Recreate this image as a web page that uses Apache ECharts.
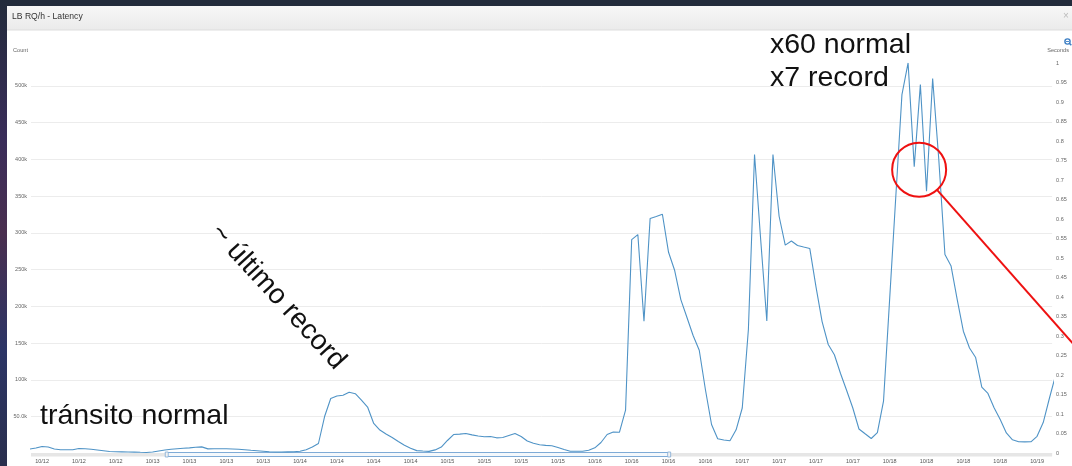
<!DOCTYPE html>
<html>
<head>
<meta charset="utf-8">
<script src="https://cdn.jsdelivr.net/npm/echarts@6/dist/echarts.min.js"></script>
<style>
html,body{margin:0;padding:0;background:#222b3b;}
#c{width:1072px;height:466px;}
</style>
</head>
<body>
<div id="c"></div>
<script>
// x = hours since 10/12 00:00 (hourly samples)
const hours = [4,5,6,7,8,9,10,11,12,13,14,15,16,17,18,19,20,21,22,23,24,25,26,27,28,29,30,31,32,33,34,35,36,37,38,39,40,41,42,43,44,45,46,47,48,49,50,51,52,53,54,55,56,57,58,59,60,61,62,63,64,65,66,67,68,69,70,71,72,73,74,75,76,77,78,79,80,81,82,83,84,85,86,87,88,89,90,91,92,93,94,95,96,97,98,99,100,101,102,103,104,105,106,107,108,109,110,111,112,113,114,115,116,117,118,119,120,121,122,123,124,125,126,127,128,129,130,131,132,133,134,135,136,137,138,139,140,141,142,143,144,145,146,147,148,149,150,151,152,153,154,155,156,157,158,159,160,161,162,163,164,165,166,167,168,169,170,171];
// requests per hour, in thousands
const countK = [6.1,7.5,9.5,8.8,6.1,5.0,5.0,5.2,6.8,6.4,5.7,4.8,3.8,2.7,2.3,2.2,2.0,1.9,1.6,1.4,2.0,3.4,4.8,5.7,6.4,7.1,7.7,8.4,9.0,6.3,6.4,6.5,6.5,6.1,5.7,5.2,4.4,3.7,3.0,2.3,2.0,2.0,2.2,2.4,3.1,5.2,8.8,13.6,50.3,74.8,78.2,79.3,83.2,81.3,72.7,63.2,40.8,31.9,26.5,21.8,16.3,11.1,7.1,3.9,3.3,2.9,4.9,8.8,17.7,25.8,26.4,27.3,25.3,23.7,22.8,23.2,21.3,21.8,24.5,27.2,23.1,17.0,13.9,12.0,11.0,10.5,8.2,5.4,3.1,3.1,3.1,4.5,7.7,15.0,25.8,29.2,28.8,58.9,290.9,297.7,179.8,319.5,322.2,325.3,273.6,248.8,209.3,184.9,160.4,140.4,87.0,39.4,20.0,18.4,17.4,32.2,61.9,168.6,406.5,290.9,180.1,406.5,322.6,283.4,288.9,282.8,280.7,278.7,227.0,179.4,148.2,134.3,108.8,85.6,61.9,33.3,26.8,20.4,28.5,71.1,210.3,349.4,488.0,531.1,390.1,501.6,356.6,509.8,399.7,270.5,254.9,209.3,166.3,143.4,130.5,90.4,81.6,62.1,46.2,27.9,18.6,15.9,15.8,15.9,23.4,42.1,74.8,106.0];
const tickHours = [6,12,18,24,30,36,42,48,54,60,66,72,78,84,90,96,102,108,114,120,126,132,138,144,150,156,162,168];
const tickLabels = ['10/12','10/12','10/12','10/13','10/13','10/13','10/13','10/14','10/14','10/14','10/14','10/15','10/15','10/15','10/15','10/16','10/16','10/16','10/16','10/17','10/17','10/17','10/17','10/18','10/18','10/18','10/18','10/19'];
const navigatorRange = [26.3, 108.1];
const annotationPoint = [148.8, 386];

const FONT = '"Liberation Sans", Arial, sans-serif';
const chart = echarts.init(document.getElementById('c'));

const gridColors = [];
for (let i = 0; i < 11; i++) gridColors.push('#ececec');
gridColors.push('rgba(0,0,0,0)');

const option = {
  backgroundColor: '#222b3b',
  animation: false,
  grid: {left: 31, right: 19, top: 63, bottom: 12.5, containLabel: false},
  xAxis: {
    type: 'value', min: 4.2, max: 170.45,
    axisLine: {show: false}, axisTick: {show: false}, splitLine: {show: false},
    axisLabel: {
      customValues: tickHours,
      formatter: v => { const i = tickHours.indexOf(Math.round(v)); return i >= 0 ? tickLabels[i] : ''; },
      fontSize: 5.5, color: '#555', fontFamily: FONT, margin: 5
    }
  },
  yAxis: [
    {
      type: 'value', min: 0, max: 531, interval: 50, position: 'left',
      name: 'Count', nameLocation: 'end', nameGap: 10,
      nameTextStyle: {fontSize: 5.6, color: '#666', fontFamily: FONT, align: 'right', padding: [0, 3, 0, 0]},
      axisLine: {show: false}, axisTick: {show: false},
      axisLabel: {
        showMinLabel: false, showMaxLabel: false,
        formatter: v => (v === 0 || v > 500) ? '' : (v === 50 ? '50.0k' : v + 'k'),
        fontSize: 5.5, color: '#666', fontFamily: FONT, margin: 4
      },
      splitLine: {lineStyle: {color: gridColors, width: 1}}
    },
    {
      type: 'value', min: 0, max: 1, interval: 0.05, position: 'right',
      name: 'Seconds', nameLocation: 'end', nameGap: 10,
      nameTextStyle: {fontSize: 5.6, color: '#666', fontFamily: FONT, align: 'center', padding: [0, 0, 0, 12]},
      axisLine: {show: false}, axisTick: {show: false},
      axisLabel: {fontSize: 5.5, color: '#666', fontFamily: FONT, margin: 4,
        formatter: v => String(Math.round(v * 100) / 100)},
      splitLine: {show: false}
    }
  ],
  series: [{
    type: 'line', yAxisIndex: 0,
    data: hours.map((h, i) => [h, countK[i]]),
    showSymbol: false, clip: true,
    lineStyle: {color: '#4f93c6', width: 1.1}
  }]
};
chart.setOption(option);

function px(p) { return chart.convertToPixel({seriesIndex: 0}, p); }
const a = px([navigatorRange[0], 0]), b = px([navigatorRange[1], 0]);
const g0 = px([4.2, 0]), g1 = px([170.45, 0]);
const c = px(annotationPoint);
const r = 27;
const ang = Math.atan2(172, 152);
const lx1 = c[0] + r * Math.cos(ang), ly1 = c[1] + r * Math.sin(ang);

const graphic = [
  {type: 'rect', z: -100, silent: true, shape: {x: 0, y: 0, width: 7, height: 466},
    style: {fill: new echarts.graphic.LinearGradient(0, 0, 0, 1, [
      {offset: 0, color: '#222b3b'}, {offset: 0.3, color: '#3a2d5a'},
      {offset: 0.5, color: '#4a2f4f'}, {offset: 0.75, color: '#2c3566'}, {offset: 1, color: '#2a2f4d'}])}},
  {type: 'rect', z: -90, silent: true, shape: {x: 7, y: 6, width: 1065, height: 460}, style: {fill: '#ffffff'}},
  {type: 'rect', z: -80, silent: true, shape: {x: 7, y: 6, width: 1065, height: 24},
    style: {fill: new echarts.graphic.LinearGradient(0, 0, 0, 1, [
      {offset: 0, color: '#f7f7f7'}, {offset: 1, color: '#ebebeb'}])}},
  {type: 'line', z: -80, silent: true, shape: {x1: 7, y1: 30, x2: 1072, y2: 30}, style: {stroke: '#dddddd', lineWidth: 1}},
  {type: 'text', z: 10, x: 12, y: 16.5, style: {text: 'LB RQ/h - Latency', font: '8.6px ' + FONT, fill: '#333', verticalAlign: 'middle'}},
  {type: 'text', z: 10, x: 1066, y: 16.5, style: {text: '×', font: '10px ' + FONT, fill: '#bbbbbb', align: 'center', verticalAlign: 'middle'}},
  {type: 'circle', z: 10, shape: {cx: 1067.5, cy: 41.5, r: 2.6}, style: {fill: 'none', stroke: '#3d7fc4', lineWidth: 1.4}},
  {type: 'line', z: 10, shape: {x1: 1069.3, y1: 43.3, x2: 1071.3, y2: 45.3}, style: {stroke: '#3d7fc4', lineWidth: 1.6}},
  {type: 'line', z: 10, shape: {x1: 1066, y1: 41.5, x2: 1069, y2: 41.5}, style: {stroke: '#3d7fc4', lineWidth: 0.9}},
  {type: 'rect', z: 1, silent: true, shape: {x: g0[0], y: 453, width: g1[0] - g0[0], height: 3.5}, style: {fill: '#e6e6e6'}},
  {type: 'rect', z: 2, silent: true, shape: {x: a[0], y: 452.5, width: b[0] - a[0], height: 4}, style: {fill: '#f4f8fc', stroke: '#7fabd6', lineWidth: 1}},
  {type: 'rect', z: 3, silent: true, shape: {x: a[0] - 1.5, y: 452, width: 3, height: 5}, style: {fill: '#f2f2f2', stroke: '#7fabd6', lineWidth: 0.8}},
  {type: 'rect', z: 3, silent: true, shape: {x: b[0] - 1.5, y: 452, width: 3, height: 5}, style: {fill: '#f2f2f2', stroke: '#7fabd6', lineWidth: 0.8}},
  {type: 'text', z: 20, x: 40, y: 416.5, style: {text: 'tránsito normal', font: '28.5px ' + FONT, fill: '#111', verticalAlign: 'middle'}},
  {type: 'text', z: 20, x: 278, y: 297, rotation: -0.83, style: {text: '~ último record', font: '28px ' + FONT, fill: '#111', align: 'center', verticalAlign: 'middle'}},
  {type: 'text', z: 20, x: 770, y: 45, style: {text: 'x60 normal', font: '28.5px ' + FONT, fill: '#111', verticalAlign: 'middle'}},
  {type: 'text', z: 20, x: 770, y: 78.5, style: {text: 'x7 record', font: '28.5px ' + FONT, fill: '#111', verticalAlign: 'middle'}},
  {type: 'circle', z: 20, shape: {cx: c[0], cy: c[1], r: r}, style: {fill: 'none', stroke: '#ee1111', lineWidth: 2}},
  {type: 'line', z: 20, shape: {x1: lx1, y1: ly1, x2: 1082, y2: ly1 + (1082 - lx1) * Math.tan(ang)},
    style: {stroke: '#ee1111', lineWidth: 2}}
];
chart.setOption({graphic: graphic});
</script>
</body>
</html>
